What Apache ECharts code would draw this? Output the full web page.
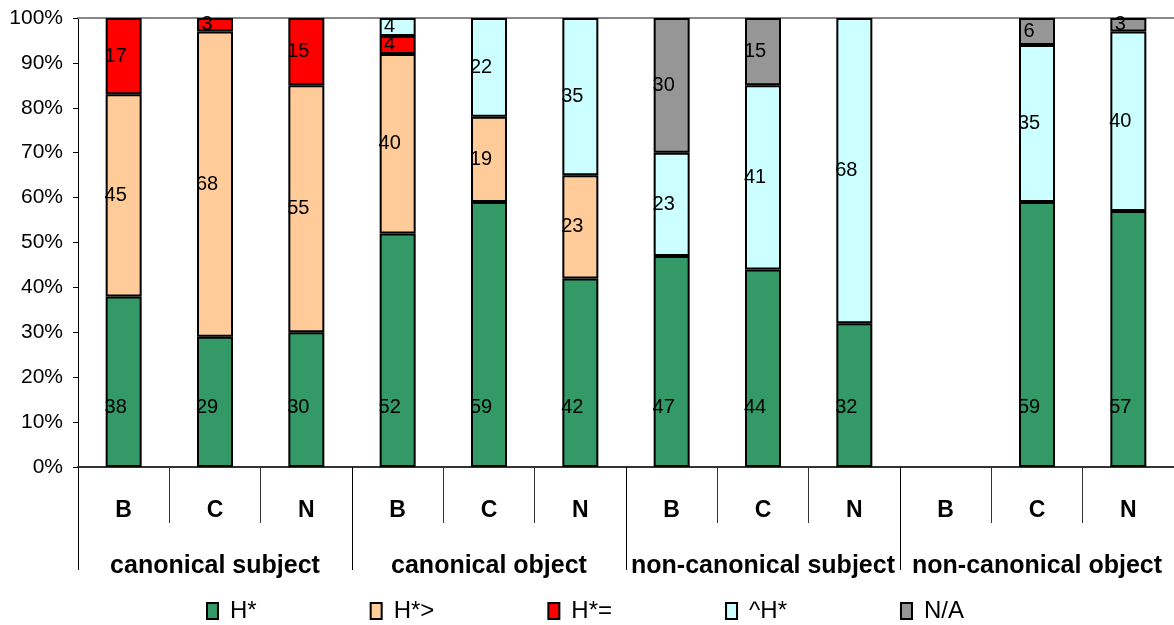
<!DOCTYPE html>
<html>
<head>
<meta charset="utf-8">
<script src="https://cdn.jsdelivr.net/npm/echarts@6/dist/echarts.min.js"></script>
<style>
html,body{margin:0;padding:0;background:#fff;}
#chart{width:1174px;height:625px;}
</style>
</head>
<body>
<div id="chart"></div>
<script>
// ---- data ----
const categories = ['B','C','N','B','C','N','B','C','N','B','C','N'];
const groups = ['canonical subject','canonical object','non-canonical subject','non-canonical object'];
const seriesNames = ['H*','H*>','H*=','^H*','N/A'];
const hStar   = [38, 29, 30, 52, 59, 42, 47, 44, 32, null, 59, 57];
const hStarGt = [45, 68, 55, 40, 19, 23, null, null, null, null, null, null];
const hStarEq = [17, 3, 15, 4, null, null, null, null, null, null, null, null];
const caretH  = [null, null, null, 4, 22, 35, 23, 41, 68, null, 35, 40];
const notAvail= [null, null, null, null, null, null, 30, 15, null, null, 6, 3];
const yMin = 0, yMax = 100, yStep = 10;

const colors = ['#339966','#FFCC99','#FF0000','#CCFFFF','#969696'];
const values = [hStar, hStarGt, hStarEq, caretH, notAvail];

const FONT = "'Liberation Sans', Arial, sans-serif";
const NARROW = "'Liberation Sans Narrow', 'Liberation Sans', Arial, sans-serif";

const series = seriesNames.map((name, i) => ({
  name: name,
  type: 'bar',
  stack: 'total',
  barWidth: 36,
  data: values[i],
  itemStyle: { color: colors[i], borderColor: '#000', borderWidth: 2 },
  label: {
    show: true,
    position: i === 0 ? 'insideBottom' : 'inside',
    distance: i === 0 ? 50 : 5,
    offset: [-8, 0],
    color: '#000',
    fontFamily: FONT,
    fontSize: 20,
    textBorderWidth: 0,
    textShadowBlur: 0
  },
  emphasis: { disabled: true }
}));

const chart = echarts.init(document.getElementById('chart'), null, { renderer: 'canvas' });
chart.setOption({
  animation: false,
  backgroundColor: '#fff',
  grid: { left: 78, right: 0, top: 18, bottom: 158, containLabel: false },
  legend: {
    data: seriesNames,
    left: 201,
    top: 594,
    icon: 'rect',
    itemWidth: 11,
    itemHeight: 16,
    itemGap: 113,
    textStyle: { fontFamily: NARROW, fontSize: 24, color: '#000', padding: [6, 0, 0, 7] }
  },
  xAxis: [
    {
      type: 'category',
      data: categories,
      position: 'bottom',
      axisLine: { show: true, lineStyle: { color: '#333', width: 2 } },
      axisTick: { show: true, interval: 0, length: 56, lineStyle: { color: '#333', width: 1 } },
      axisLabel: { interval: 0, margin: 32, fontFamily: FONT, fontWeight: 'bold', fontSize: 23, color: '#000' },
      splitLine: { show: false }
    },
    {
      type: 'category',
      data: groups,
      position: 'bottom',
      axisLine: { show: false },
      axisTick: { show: true, interval: 0, length: 103, lineStyle: { color: '#000', width: 1 } },
      axisLabel: { interval: 0, margin: 87, fontFamily: FONT, fontWeight: 'bold', fontSize: 25, color: '#000' },
      splitLine: { show: false }
    },
    {
      type: 'category',
      data: categories,
      position: 'top',
      axisLine: { show: true, lineStyle: { color: '#888', width: 2 } },
      axisTick: { show: false },
      axisLabel: { show: false }
    }
  ],
  yAxis: {
    type: 'value',
    min: yMin,
    max: yMax,
    interval: yStep,
    axisLine: { show: true, lineStyle: { color: '#000', width: 1 } },
    axisTick: { show: true, length: 5, lineStyle: { color: '#000' } },
    axisLabel: { formatter: '{value}%', fontFamily: FONT, fontSize: 21, color: '#000', margin: 15 },
    splitLine: { show: false }
  },
  series: series
});
</script>
</body>
</html>
